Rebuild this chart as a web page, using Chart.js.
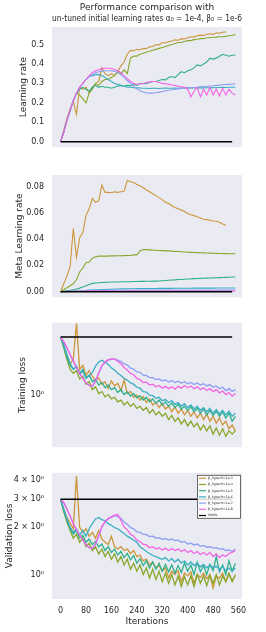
<!DOCTYPE html>
<html>
<head>
<meta charset="utf-8">
<script src="https://cdn.jsdelivr.net/npm/chart.js@4.4.0/dist/chart.umd.min.js"></script>
<style>
  body { margin: 0; background: #fff; width: 266px; height: 632px; position: relative; overflow: hidden; }
  canvas { position: absolute; left: 0; }
</style>
</head>
<body>
<canvas id="lrChart" width="266" height="160" style="top:0px"></canvas>
<canvas id="metaChart" width="266" height="150" style="top:160px"></canvas>
<canvas id="trainChart" width="266" height="150" style="top:310px"></canvas>
<canvas id="valChart" width="266" height="172" style="top:460px"></canvas>
<script>
// iterations (x) shared by every series, MAML is a flat line
const iters = [0,10,20,30,40,50,60,70,80,90,100,110,120,130,140,150,160,170,180,190,200,210,220,230,240,250,260,270,280,290,300,310,320,330,340,350,360,370,380,390,400,410,420,430,440,450,460,470,480,490,500,510,520,530,540,550];
const mamlIters = [0, 540];

const seriesNames = ["β_hyperlr=1e-3", "β_hyperlr=1e-4", "β_hyperlr=1e-5", "β_hyperlr=1e-6", "β_hyperlr=1e-7", "β_hyperlr=1e-8", "MAML"];
const seriesColors = ["#cc963a", "#88a82c", "#2fb08a", "#3aaec2", "#8c9cf2", "#f264e4", "#000000"];

// === Learning rate ===
const lrOrange = [0,0.06,0.12,0.17,0.21,0.14,0.28,0.27,0.28,0.25,
  0.28,0.30,0.31,0.38,0.35,0.34,0.35,0.34,0.36,0.39,
  0.41,0.45,0.47,0.468,0.475,0.472,0.48,0.478,0.488,0.49,
  0.50,0.498,0.51,0.508,0.515,0.518,0.524,0.522,0.53,0.528,
  0.535,0.54,0.538,0.545,0.548,0.546,0.553,0.555,0.552,0.56,
  0.558,0.563,0.565,null,null,null];
const lrGreen = [0,0.05,0.11,0.16,0.21,0.25,0.24,0.22,0.20,0.25,
  0.27,0.30,0.29,0.31,0.32,0.32,0.33,0.34,0.36,0.35,
  0.37,0.35,0.43,0.44,0.44,0.45,0.455,0.46,0.465,0.47,
  0.475,0.48,0.485,0.49,0.495,0.50,0.505,0.51,0.51,0.515,
  0.52,0.52,0.525,0.527,0.53,0.53,0.535,0.535,0.537,0.538,
  0.54,0.54,0.542,0.545,0.548,0.551];
const lrTeal = [0,0.05,0.11,0.16,0.21,0.25,0.27,0.28,0.27,0.26,
  0.28,0.29,0.28,0.285,0.28,0.28,0.275,0.28,0.285,0.29,
  0.285,0.29,0.288,0.295,0.29,0.30,0.298,0.30,0.305,0.31,
  0.31,0.315,0.32,0.318,0.33,0.335,0.33,0.345,0.36,0.355,
  0.365,0.37,0.38,0.395,0.39,0.40,0.41,0.43,0.425,0.43,
  0.44,0.45,0.445,0.44,0.445,0.445];
const lrCyan = [0,0.05,0.11,0.16,0.21,0.25,0.28,0.30,0.32,0.335,
  0.34,0.345,0.345,0.34,0.33,0.32,0.31,0.30,0.295,0.29,
  0.285,0.28,0.28,0.278,0.277,0.276,0.275,0.275,0.274,0.275,
  0.275,0.274,0.275,0.276,0.275,0.275,0.276,0.275,0.276,0.276,
  0.277,0.276,0.277,0.277,0.278,0.277,0.278,0.278,0.279,0.278,
  0.279,0.28,0.279,0.28,0.28,0.28];
const lrBlue = [0,0.05,0.11,0.16,0.21,0.25,0.28,0.30,0.32,0.335,
  0.345,0.355,0.36,0.363,0.365,0.365,0.365,0.362,0.355,0.345,
  0.33,0.315,0.30,0.285,0.272,0.262,0.256,0.252,0.25,0.25,
  0.252,0.255,0.258,0.262,0.265,0.267,0.27,0.272,0.274,0.276,
  0.277,0.278,0.279,0.28,0.282,0.284,0.285,0.287,0.288,0.29,
  0.291,0.293,0.294,0.295,0.296,0.298];
const lrPink = [0,0.05,0.11,0.16,0.21,0.25,0.28,0.30,0.32,0.34,
  0.355,0.365,0.372,0.376,0.378,0.378,0.377,0.372,0.365,0.355,
  0.34,0.325,0.31,0.30,0.295,0.297,0.30,0.305,0.308,0.31,
  0.31,0.305,0.30,0.298,0.295,0.292,0.29,0.285,0.282,0.28,
  0.27,0.23,0.26,0.28,0.23,0.27,0.24,0.28,0.24,0.27,
  0.235,0.275,0.24,0.27,0.25,0.24];
const lrMaml = [0, 0];
const lrTicks = [0, 0.1, 0.2, 0.3, 0.4, 0.5];
const lrTickLabels = ["0.0", "0.1", "0.2", "0.3", "0.4", "0.5"];

// === Meta learning rate ===
const metaOrange = [0,0.006,0.012,0.019,0.048,0.026,0.041,0.045,0.058,0.063,
  0.071,0.068,0.069,0.081,0.0755,0.0755,0.0752,0.076,0.0755,0.076,
  0.0765,0.0845,0.0835,0.083,0.0815,0.0805,0.079,0.0775,0.076,0.0745,
  0.073,0.0715,0.070,0.068,0.067,0.0655,0.064,0.063,0.062,0.061,
  0.0595,0.0585,0.0578,0.057,0.056,0.055,0.0548,0.0543,0.0537,0.0535,
  0.0528,0.0515,0.0505,null,null,null];
const metaGreen = [0,0.0015,0.003,0.0045,0.006,0.009,0.015,0.018,0.022,0.0225,
  0.0255,0.0265,0.027,0.027,0.027,0.027,0.0272,0.0272,0.0273,0.0273,
  0.0274,0.0275,0.0275,0.028,0.028,0.031,0.032,0.032,0.0318,0.0316,
  0.0315,0.0313,0.0312,0.031,0.031,0.0308,0.0306,0.0305,0.0304,0.0302,
  0.030,0.0299,0.0298,0.0297,0.0296,0.0295,0.0294,0.0293,0.0292,0.0291,
  0.029,0.029,0.0289,0.0288,0.0288,0.0288];
const metaTeal = [0,0.0003,0.0007,0.001,0.0015,0.002,0.0027,0.0035,0.0045,0.0055,
  0.0063,0.0066,0.0068,0.007,0.0071,0.0072,0.0073,0.0073,0.0074,0.0075,
  0.0075,0.0076,0.0076,0.0077,0.0077,0.0078,0.0078,0.0079,0.0079,0.008,
  0.008,0.0081,0.0083,0.0085,0.0087,0.0089,0.009,0.0092,0.0093,0.0095,
  0.0096,0.0097,0.0099,0.01,0.0101,0.0102,0.0103,0.0104,0.0105,0.0106,
  0.0107,0.0108,0.0109,0.011,0.0111,0.0112];
const metaCyan = [0,0.0001,0.0002,0.0003,0.0004,0.0005,0.0007,0.0009,0.001,0.0012,
  0.0013,0.0014,0.0015,0.0016,0.0017,0.0018,0.0019,0.002,0.002,0.0021,
  0.0021,0.0022,0.0022,0.0022,0.0023,0.0023,0.0023,0.0024,0.0024,0.0024,
  0.0024,0.0025,0.0025,0.0025,0.0025,0.0025,0.0026,0.0026,0.0026,0.0026,
  0.0026,0.0026,0.0027,0.0027,0.0027,0.0027,0.0027,0.0027,0.0027,0.0028,
  0.0028,0.0028,0.0028,0.0028,0.0028,0.0028];
const metaBlue = [0,0.0001,0.0002,0.0003,0.0004,0.0005,0.0006,0.0007,0.0008,0.0008,
  0.0009,0.0009,0.0009,0.001,0.001,0.001,0.001,0.001,0.0011,0.0011,
  0.0011,0.0011,0.0011,0.0011,0.0011,0.0011,0.0011,0.0012,0.0012,0.0012,
  0.0012,0.0012,0.0012,0.0012,0.0012,0.0012,0.0012,0.0012,0.0012,0.0012,
  0.0012,0.0012,0.0012,0.0012,0.0012,0.0012,0.0012,0.0012,0.0012,0.0012,
  0.0012,0.0012,0.0012,0.0012,0.0012,0.0012];
const metaPink = [0,0.0001,0.0001,0.0002,0.0002,0.0003,0.0003,0.0003,0.0004,0.0004,
  0.0004,0.0004,0.0004,0.0005,0.0005,0.0005,0.0005,0.0005,0.0005,0.0005,
  0.0005,0.0005,0.0005,0.0005,0.0005,0.0005,0.0005,0.0005,0.0005,0.0005,
  0.0005,0.0005,0.0005,0.0005,0.0005,0.0005,0.0005,0.0005,0.0005,0.0005,
  0.0005,0.0005,0.0005,0.0005,0.0005,0.0005,0.0005,0.0005,0.0005,0.0005,
  0.0005,0.0005,0.0005,0.0005,0.0005,0.0005];
const metaMaml = [0, 0];
const metaTicks = [0, 0.02, 0.04, 0.06, 0.08];
const metaTickLabels = ["0.00", "0.02", "0.04", "0.06", "0.08"];

// === Training loss ===
const trainOrange = [3.0,2.55,2.1,1.8,1.95,3.9,1.62,1.75,1.45,1.58,
  1.42,1.3,1.38,1.22,1.28,1.12,1.3,1.18,1.24,1.08,
  1.32,1.02,1.06,0.95,0.99,0.9,0.96,0.86,0.92,0.82,
  0.86,0.78,0.84,0.76,0.8,0.72,0.79,0.7,0.76,0.68,
  0.74,0.66,0.72,0.64,0.7,0.62,0.69,0.6,0.66,0.58,
  0.64,0.56,0.6,0.52,0.56,0.5];
const trainGreen = [3.0,2.45,1.95,1.62,1.5,1.58,1.35,1.42,1.22,1.28,
  1.1,1.16,1.02,1.06,0.96,1.0,0.92,0.95,0.87,0.9,
  0.82,0.87,0.8,0.84,0.77,0.8,0.74,0.78,0.7,0.75,
  0.68,0.72,0.66,0.7,0.62,0.67,0.6,0.64,0.57,0.62,
  0.55,0.6,0.54,0.58,0.51,0.56,0.5,0.55,0.47,0.53,
  0.46,0.52,0.45,0.5,0.47,0.5];
const trainTeal = [3.0,2.5,2.05,1.75,1.62,1.72,1.5,1.62,1.38,1.45,
  1.28,1.34,1.2,1.26,1.14,1.2,1.1,1.14,1.04,1.1,
  1.0,1.05,0.97,1.02,0.94,0.98,0.9,0.95,0.87,0.92,
  0.85,0.9,0.82,0.87,0.8,0.85,0.78,0.83,0.76,0.8,
  0.74,0.79,0.72,0.77,0.7,0.76,0.68,0.74,0.67,0.73,
  0.66,0.72,0.64,0.7,0.6,0.66];
const trainCyan = [3.0,2.6,2.15,1.82,1.62,1.7,1.48,1.56,1.36,1.44,
  1.52,1.72,1.86,1.93,1.86,1.78,1.66,1.6,1.5,1.44,
  1.36,1.32,1.25,1.22,1.15,1.13,1.06,1.05,0.99,0.98,
  0.93,0.95,0.89,0.91,0.86,0.89,0.83,0.86,0.8,0.84,
  0.78,0.82,0.76,0.8,0.74,0.78,0.72,0.77,0.7,0.75,
  0.69,0.74,0.68,0.73,0.66,0.7];
const trainBlue = [3.0,2.75,2.45,2.15,1.9,1.68,1.5,1.36,1.25,1.19,
  1.17,1.3,1.5,1.72,1.85,1.93,1.96,1.98,1.93,1.88,
  1.8,1.76,1.66,1.63,1.54,1.53,1.45,1.44,1.38,1.38,
  1.33,1.35,1.3,1.32,1.27,1.31,1.26,1.29,1.24,1.28,
  1.23,1.26,1.21,1.25,1.2,1.23,1.18,1.21,1.15,1.18,
  1.12,1.15,1.08,1.12,1.06,1.1];
const trainPink = [3.0,2.75,2.45,2.15,1.9,1.68,1.5,1.36,1.25,1.19,
  1.18,1.3,1.52,1.74,1.87,1.95,1.98,1.97,1.88,1.8,
  1.68,1.6,1.5,1.46,1.36,1.33,1.26,1.27,1.2,1.22,
  1.16,1.19,1.13,1.17,1.12,1.16,1.11,1.17,1.13,1.19,
  1.14,1.18,1.12,1.16,1.1,1.14,1.08,1.12,1.06,1.1,
  1.03,1.07,1.0,1.04,0.97,1.02];
const trainMaml = [3.0, 3.0];
const trainTicks = [1];
const trainTickLabels = ["10⁰"];

// === Validation loss ===
const valOrange = [3.0,2.6,2.3,2.12,1.95,4.2,2.0,1.85,1.95,1.75,
  1.85,1.7,1.9,1.68,1.6,1.55,1.75,1.5,1.45,1.5,
  1.42,1.45,1.36,1.42,1.3,1.33,1.22,1.25,1.15,1.2,
  1.1,1.14,1.05,1.1,0.95,1.05,1.0,1.06,0.9,1.02,
  0.98,1.04,0.88,1.0,0.96,1.02,0.94,1.0,0.82,0.98,
  0.95,1.02,0.9,1.0,0.92,0.98];
const valGreen = [3.0,2.5,2.15,1.9,1.7,1.8,1.6,1.7,1.5,1.58,
  1.42,1.5,1.35,1.45,1.3,1.4,1.25,1.35,1.2,1.3,
  1.15,1.25,1.08,1.18,1.05,1.15,1.0,1.1,0.95,1.08,
  0.93,1.05,0.9,1.02,0.88,1.0,0.86,0.98,0.84,0.97,
  0.86,0.98,0.84,1.0,0.88,0.98,0.85,0.99,0.88,1.0,
  0.86,0.98,0.9,1.02,0.9,1.0];
const valTeal = [3.0,2.55,2.2,1.95,1.8,1.9,1.7,1.78,1.6,1.68,
  1.55,1.62,1.5,1.56,1.42,1.5,1.38,1.45,1.33,1.4,
  1.28,1.36,1.24,1.32,1.18,1.26,1.14,1.22,1.1,1.2,
  1.08,1.18,1.05,1.16,1.04,1.15,1.02,1.14,1.03,1.18,
  1.05,1.15,1.0,1.2,1.04,1.14,1.0,1.16,1.06,1.3,
  1.04,1.15,1.0,1.22,1.05,1.18];
const valCyan = [3.0,2.6,2.25,2.0,1.85,1.95,1.78,1.9,1.75,1.95,
  2.1,2.25,2.3,2.22,2.2,2.1,2.05,1.98,1.95,1.88,
  1.82,1.75,1.7,1.65,1.6,1.5,1.45,1.4,1.36,1.32,
  1.3,1.27,1.25,1.28,1.22,1.26,1.2,1.25,1.18,1.22,
  1.15,1.2,1.14,1.18,1.12,1.16,1.1,1.15,1.1,1.13,
  1.08,1.12,1.06,1.1,1.05,1.1];
const valBlue = [3.0,2.85,2.6,2.35,2.1,1.92,1.78,1.65,1.55,1.48,
  1.46,1.55,1.75,2.0,2.15,2.25,2.3,2.36,2.33,2.27,
  2.15,2.08,1.98,1.95,1.86,1.85,1.8,1.79,1.74,1.75,
  1.7,1.71,1.67,1.69,1.66,1.68,1.64,1.65,1.6,1.62,
  1.56,1.58,1.54,1.56,1.51,1.53,1.49,1.5,1.47,1.48,
  1.45,1.46,1.42,1.43,1.4,1.45];
const valPink = [3.0,2.85,2.6,2.35,2.1,1.92,1.78,1.65,1.55,1.48,
  1.47,1.56,1.77,2.02,2.17,2.27,2.32,2.38,2.4,2.2,
  2.0,1.92,1.8,1.75,1.65,1.62,1.55,1.54,1.48,1.5,
  1.45,1.48,1.43,1.47,1.42,1.46,1.42,1.45,1.4,1.44,
  1.38,1.42,1.36,1.4,1.34,1.38,1.33,1.38,1.3,1.35,
  1.28,1.33,1.3,1.36,1.38,1.42];
const valMaml = [3.0, 3.0];
const valTicks = [1, 2, 3, 4];
const valTickLabels = ["10⁰", "2 × 10⁰", "3 × 10⁰", "4 × 10⁰"];

const xTicks = [0, 80, 160, 240, 320, 400, 480, 560];

// === helpers ===
const FONT = "'DejaVu Sans', sans-serif";
const TXT = "#262626";

function toPoints(xs, vals) {
  const pts = [];
  vals.forEach((v, j) => { if (v !== null) pts.push({ x: xs[j], y: v }); });
  return pts;
}

function makeSets(list, lw) {
  return list.map((vals, i) => ({
    label: seriesNames[i],
    data: toPoints(i === 6 ? mamlIters : iters, vals),
    borderColor: seriesColors[i],
    borderWidth: i === 6 ? 1.5 : lw,
    pointRadius: 0,
    tension: 0,
    order: 10 - i
  }));
}

const bgPlugin = {
  id: "bg",
  beforeDatasetsDraw(chart) {
    const { ctx, chartArea: a } = chart;
    ctx.save();
    ctx.fillStyle = "#eaeaf2";
    ctx.fillRect(a.left, a.top, a.right - a.left, a.bottom - a.top);
    ctx.restore();
  }
};

// small legend box, top right of the last panel
const miniLegend = {
  id: "miniLegend",
  afterDraw(chart) {
    const { ctx, chartArea: a } = chart;
    const w = 44, h = 44, left = a.right - w - 1, top = a.top + 2;
    ctx.save();
    ctx.fillStyle = "rgba(255,255,255,0.85)";
    ctx.fillRect(left, top, w, h);
    ctx.strokeStyle = "#444";
    ctx.lineWidth = 0.8;
    ctx.strokeRect(left + 0.5, top + 0.5, w - 1, h - 1);
    ctx.font = "3.2px " + FONT;
    ctx.textBaseline = "middle";
    ctx.fillStyle = "#222";
    seriesNames.forEach((name, i) => {
      const y = top + 3.5 + i * 6.2;
      ctx.strokeStyle = seriesColors[i];
      ctx.lineWidth = 1.2;
      ctx.beginPath();
      ctx.moveTo(left + 2, y);
      ctx.lineTo(left + 9, y);
      ctx.stroke();
      ctx.fillText(name, left + 11, y);
    });
    ctx.restore();
  }
};

function yAxis(type, min, max, ticks, tickLabels, title, titlePad) {
  return {
    type: type,
    min: min,
    max: max,
    afterBuildTicks: s => { s.ticks = ticks.map(v => ({ value: v })); },
    afterFit: s => { s.width = 52; },
    ticks: {
      callback: (v, i) => tickLabels[i],
      font: { family: FONT, size: 8 },
      color: TXT,
      padding: 8,
      autoSkip: false
    },
    grid: { display: false, drawTicks: false },
    border: { display: false },
    title: { display: true, text: title, color: TXT, font: { family: FONT, size: 9 }, padding: { top: titlePad, bottom: 0 } }
  };
}

function xAxis(show) {
  return {
    type: "linear",
    min: -27,
    max: 571,
    display: show,
    afterBuildTicks: s => { s.ticks = xTicks.map(v => ({ value: v })); },
    afterFit: s => { if (show) s.height = 33; },
    ticks: { font: { family: FONT, size: 8 }, color: TXT, padding: 7, maxRotation: 0, autoSkip: false },
    grid: { display: false, drawTicks: false },
    border: { display: false },
    title: { display: true, text: "Iterations", color: TXT, font: { family: FONT, size: 9 }, padding: { top: 0, bottom: 5 } }
  };
}

function makeChart(id, sets, yOpts, showX, padding, titleText) {
  return new Chart(document.getElementById(id), {
    type: "line",
    data: { datasets: sets },
    options: {
      responsive: false,
      animation: false,
      devicePixelRatio: 1,
      layout: { padding: padding },
      scales: { x: xAxis(showX), y: yOpts },
      plugins: {
        legend: { display: false },
        tooltip: { enabled: false },
        title: titleText ? {
          display: true,
          text: titleText,
          fullSize: false,
          color: TXT,
          font: { family: FONT, size: 9, weight: "normal", lineHeight: 1.2 },
          padding: { top: 2, bottom: 3.4 }
        } : { display: false }
      }
    },
    plugins: id === "valChart" ? [bgPlugin, miniLegend] : [bgPlugin]
  });
}

makeChart("lrChart",
  makeSets([lrOrange, lrGreen, lrTeal, lrCyan, lrBlue, lrPink, lrMaml], 1.1),
  yAxis("linear", -0.028, 0.59, lrTicks, lrTickLabels, "Learning rate", 18.6),
  false, { left: 0, right: 24, top: 0, bottom: 3 },
  ["Performance comparison with", "un-tuned initial learning rates α₀ = 1e-4, β₀ = 1e-6"]);

makeChart("metaChart",
  makeSets([metaOrange, metaGreen, metaTeal, metaCyan, metaBlue, metaPink, metaMaml], 1.1),
  yAxis("linear", -0.0042, 0.0887, metaTicks, metaTickLabels, "Meta Learning rate", 14.6),
  false, { left: 0, right: 24, top: 15, bottom: 6 });

makeChart("trainChart",
  makeSets([trainOrange, trainGreen, trainTeal, trainCyan, trainBlue, trainPink, trainMaml], 1.3),
  yAxis("logarithmic", 0.366, 3.94, trainTicks, trainTickLabels, "Training loss", 17.3),
  false, { left: 0, right: 24, top: 12, bottom: 8 });

makeChart("valChart",
  makeSets([valOrange, valGreen, valTeal, valCyan, valBlue, valPink, valMaml], 1.3),
  yAxis("logarithmic", 0.726, 4.41, valTicks, valTickLabels, "Validation loss", 4.3),
  true, { left: 0, right: 24, top: 9, bottom: 0 });
</script>
</body>
</html>
